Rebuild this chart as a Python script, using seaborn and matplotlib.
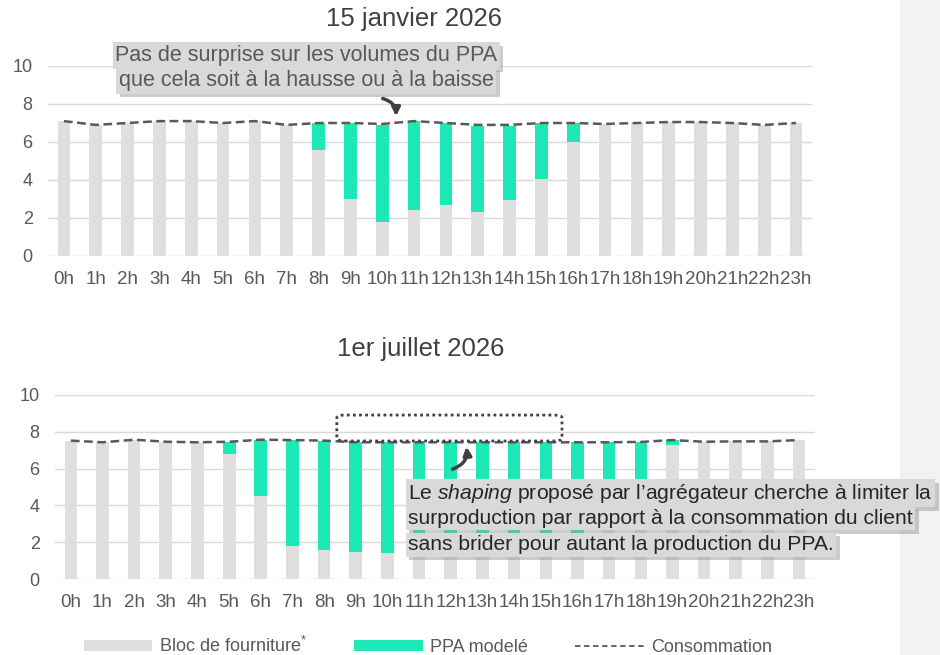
import numpy as np
import matplotlib.pyplot as plt
import matplotlib.patheffects as pe
from matplotlib.patches import Patch, Rectangle, FancyBboxPatch
from matplotlib.lines import Line2D
import seaborn as sns

heures = [f'{h}h' for h in range(24)]
x = np.arange(24)

# 15 janvier 2026
bloc_jan = [7.1, 6.9, 7.0, 7.1, 7.1, 7.0, 7.1, 6.9, 5.6, 3.0, 1.8, 2.4,
            2.7, 2.3, 2.95, 4.05, 6.0, 6.95, 7.0, 7.05, 7.05, 7.0, 6.9, 7.0]
ppa_jan = [0, 0, 0, 0, 0, 0, 0, 0, 1.4, 4.0, 5.1, 4.7,
           4.3, 4.55, 3.9, 2.95, 1.0, 0, 0, 0, 0, 0, 0, 0]
conso_jan = [7.1, 6.9, 7.0, 7.1, 7.1, 7.0, 7.1, 6.9, 7.0, 7.0, 6.95, 7.1,
             7.0, 6.9, 6.9, 7.0, 7.0, 6.95, 7.0, 7.05, 7.05, 7.0, 6.9, 7.0]

# 1er juillet 2026
bloc_jul = [7.52, 7.43, 7.57, 7.46, 7.43, 6.8, 4.5, 1.8, 1.55, 1.45, 1.42, 1.4,
            1.4, 1.4, 1.45, 1.6, 2.0, 3.1, 4.6, 7.3, 7.46, 7.48, 7.48, 7.55]
ppa_jul = [0, 0, 0, 0, 0, 0.66, 3.07, 5.75, 5.97, 5.98, 6.01, 6.03,
           6.03, 6.03, 5.98, 5.83, 5.43, 4.33, 2.85, 0.25, 0, 0, 0, 0]
conso_jul = [7.52, 7.43, 7.57, 7.46, 7.43, 7.46, 7.57, 7.55, 7.52, 7.43, 7.43, 7.43,
             7.43, 7.43, 7.43, 7.43, 7.43, 7.43, 7.45, 7.55, 7.46, 7.48, 7.48, 7.55]

sns.set_style('white')
plt.rcParams['font.family'] = ['Liberation Sans', 'DejaVu Sans']
plt.rcParams['mathtext.fontset'] = 'custom'
plt.rcParams['mathtext.rm'] = 'Liberation Sans'
plt.rcParams['mathtext.it'] = 'Liberation Sans:italic'

GRIS = '#dfdfdf'
VERT = '#1de9b6'
TRAIT = '#595959'
TEXTE = '#595959'

def trace(ax, bloc, ppa, conso):
    total = np.array(bloc) + np.array(ppa)
    # barres empilees : total (vert) puis bloc (gris) par dessus
    sns.barplot(x=x, y=total, color=VERT, saturation=1, width=0.4, linewidth=0, ax=ax)
    sns.barplot(x=x, y=bloc, color=GRIS, saturation=1, width=0.4, linewidth=0, ax=ax)
    sns.lineplot(x=x, y=conso, color=TRAIT, lw=1.8, linestyle=(0, (3.5, 1.8)), ax=ax)
    ax.set_xlim(-0.5, 23.5)
    ax.set_ylim(0, 10)
    ax.set_xticks(x)
    ax.set_xticklabels(heures)
    ax.set_yticks(range(0, 11, 2))
    ax.set_xlabel('')
    ax.set_ylabel('')
    sns.despine(ax=ax, left=True, bottom=True)
    ax.yaxis.grid(True, color='#d9d9d9', lw=1)
    ax.set_axisbelow(True)
    ax.tick_params(axis='x', length=0, labelsize=13.5, colors=TEXTE, pad=11)
    ax.tick_params(axis='y', length=0, labelsize=13, colors=TEXTE, pad=11)
    ax.patch.set_alpha(0)

fig = plt.figure(figsize=(9.4, 6.55), dpi=100)
fig.add_artist(Rectangle((900 / 940, 0), 40 / 940, 1, transform=fig.transFigure,
                         facecolor='#f2f2f2', edgecolor='none', zorder=-1))

ax1 = fig.add_axes([48 / 940, 1 - 256 / 655, 764 / 940, 190 / 655])
ax2 = fig.add_axes([55 / 940, 1 - 579 / 655, 760 / 940, 184 / 655])
trace(ax1, bloc_jan, ppa_jan, conso_jan)
trace(ax2, bloc_jul, ppa_jul, conso_jul)

fig.text(414 / 940, 1 - 19 / 655, '15 janvier 2026', ha='center', va='center',
         fontsize=18.5, color='#404040')
fig.text(421 / 940, 1 - 349 / 655, '1er juillet 2026', ha='center', va='center',
         fontsize=18.5, color='#404040')

ombre = [pe.withSimplePatchShadow(offset=(2.5, -2.5), shadow_rgbFace='#9a9a9a', alpha=0.5)]
boite = dict(boxstyle='square,pad=0.12', facecolor='#d9d9d9', edgecolor='none')

# annotation du haut
for ligne, yy in [('Pas de surprise sur les volumes du PPA', 10.55),
                  ('que cela soit à la hausse ou à la baisse', 9.24)]:
    t = ax1.text(7.61, yy, ligne, ha='center', va='center', fontsize=15.5,
                 color=TEXTE, bbox=boite, clip_on=False, zorder=5)
    t.get_bbox_patch().set_path_effects(ombre)
ax1.annotate('', xy=(10.43, 7.21), xytext=(9.93, 8.32),
             arrowprops=dict(arrowstyle='-|>', connectionstyle='arc3,rad=-0.45',
                             lw=2.5, color='#404040', mutation_scale=12),
             annotation_clip=False, zorder=6)

# annotation du bas
cadre = FancyBboxPatch((8.40, 7.5), 7.11, 1.41,
                       boxstyle='round,pad=0,rounding_size=0.25', mutation_aspect=0.6,
                       linestyle=(0, (1, 1.2)), lw=2, edgecolor='#404040',
                       facecolor='none', clip_on=False, zorder=6)
ax2.add_patch(cadre)
for ligne, yy in [(r'Le $\mathit{shaping}$ proposé par l’agrégateur cherche à limiter la', 4.65),
                  ('surproduction par rapport à la consommation du client', 3.29),
                  ('sans brider pour autant la production du PPA.', 1.85)]:
    t = ax2.text(10.65, yy, ligne, ha='left', va='center', fontsize=15.2,
                 color='#262626', bbox=boite, clip_on=False, zorder=5)
    t.get_bbox_patch().set_path_effects(ombre)
ax2.annotate('', xy=(12.48, 7.34), xytext=(11.97, 5.92),
             arrowprops=dict(arrowstyle='-|>', connectionstyle='arc3,rad=0.45',
                             lw=2.5, color='#404040', mutation_scale=12),
             annotation_clip=False, zorder=6)

poignees = [Patch(facecolor=GRIS, edgecolor='none'),
            Patch(facecolor=VERT, edgecolor='none'),
            Line2D([0], [0], color=TRAIT, lw=1.3, linestyle=(0, (3, 2)))]
fig.legend(poignees, [r'Bloc de fourniture$^{*}$', 'PPA modelé', 'Consommation'],
           loc='center', bbox_to_anchor=(0.455, 1 - 646 / 655), ncol=3, frameon=False,
           fontsize=13, handlelength=3.8, handleheight=0.55, columnspacing=2.6,
           handletextpad=0.4, labelcolor=TEXTE)

fig.savefig('out.png', dpi=100)
